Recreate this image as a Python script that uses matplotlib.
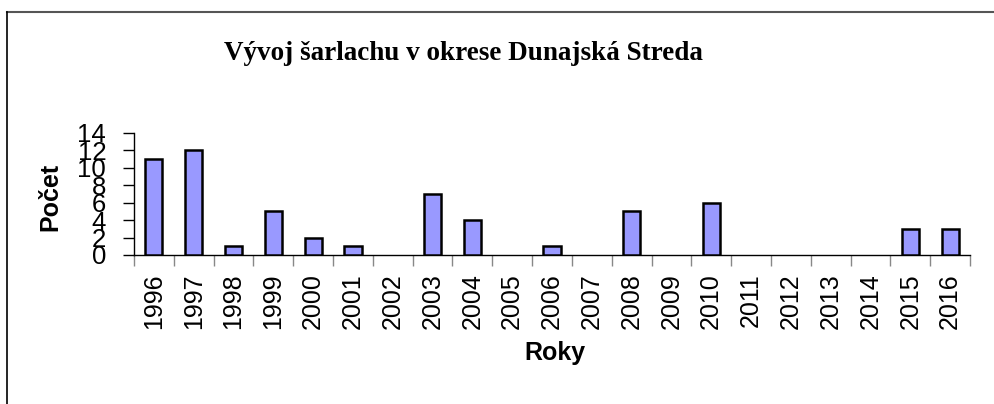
import matplotlib
matplotlib.use("Agg")
import matplotlib.pyplot as plt
from matplotlib.lines import Line2D
import numpy as np

years = ["1996", "1997", "1998", "1999", "2000", "2001", "2002", "2003", "2004", "2005",
         "2006", "2007", "2008", "2009", "2010", "2011", "2012", "2013", "2014", "2015", "2016"]
counts = [11, 12, 1, 5, 2, 1, 0, 7, 4, 0, 1, 0, 5, 0, 6, 0, 0, 0, 0, 3, 3]
yticks = [0, 2, 4, 6, 8, 10, 12, 14]

title = "Vývoj šarlachu v okrese Dunajská Streda"
xlabel = "Roky"
ylabel = "Počet"

W, H = 994, 404
fig = plt.figure(figsize=(W / 100, H / 100), dpi=100)
fig.patch.set_facecolor("white")

ax = fig.add_axes([134 / W, 1 - 255 / H, (970 - 134) / W, (255 - 133) / H])

x = np.arange(len(years))
edges = ["black" if v > 0 else "none" for v in counts]
ax.bar(x, counts, width=0.43, color="#9999FF", edgecolor=edges, linewidth=1.8, zorder=3)

ax.set_xlim(-0.5, len(years) - 0.5)
ax.set_ylim(0, 14)

sans = ["Liberation Sans", "DejaVu Sans"]
serif = ["Liberation Serif", "DejaVu Serif"]

ax.set_yticks(yticks)
ax.set_yticklabels([str(v) for v in yticks], fontsize=18.5, family=sans)
ax.tick_params(axis="y", length=8, width=1, color="black", pad=12, direction="out")

ax.set_xticks(np.arange(len(years) + 1) - 0.5)
ax.set_xticklabels([])
ax.set_xticks(x, minor=True)
ax.set_xticklabels(years, minor=True, rotation=90, fontsize=18, family=sans)
ax.tick_params(axis="x", which="major", length=8, width=1, color="#888888", direction="out")
ax.tick_params(axis="x", which="minor", length=0, pad=13)

for s in ["top", "right"]:
    ax.spines[s].set_visible(False)
ax.spines["left"].set_linewidth(1)
ax.spines["bottom"].set_linewidth(1)

fig.text(463 / W, 1 - 60 / H, title, ha="center", va="baseline",
         fontsize=19.5, fontweight="bold", family=serif)
fig.text(50 / W, 1 - 197 / H, ylabel, ha="center", va="center", rotation=90,
         fontsize=18, fontweight="bold", family=sans)
fig.text(555 / W, 1 - 360 / H, xlabel, ha="center", va="baseline",
         fontsize=18, fontweight="bold", family=sans)

# outer frame (top and left edges visible)
fig.add_artist(Line2D([7 / W, 1.0], [1 - 12 / H, 1 - 12 / H], transform=fig.transFigure,
                      color="#555555", linewidth=1.5))
fig.add_artist(Line2D([7 / W, 7 / W], [0.0, 1 - 12 / H], transform=fig.transFigure,
                      color="black", linewidth=1.2))

fig.savefig("out.png", dpi=100)
